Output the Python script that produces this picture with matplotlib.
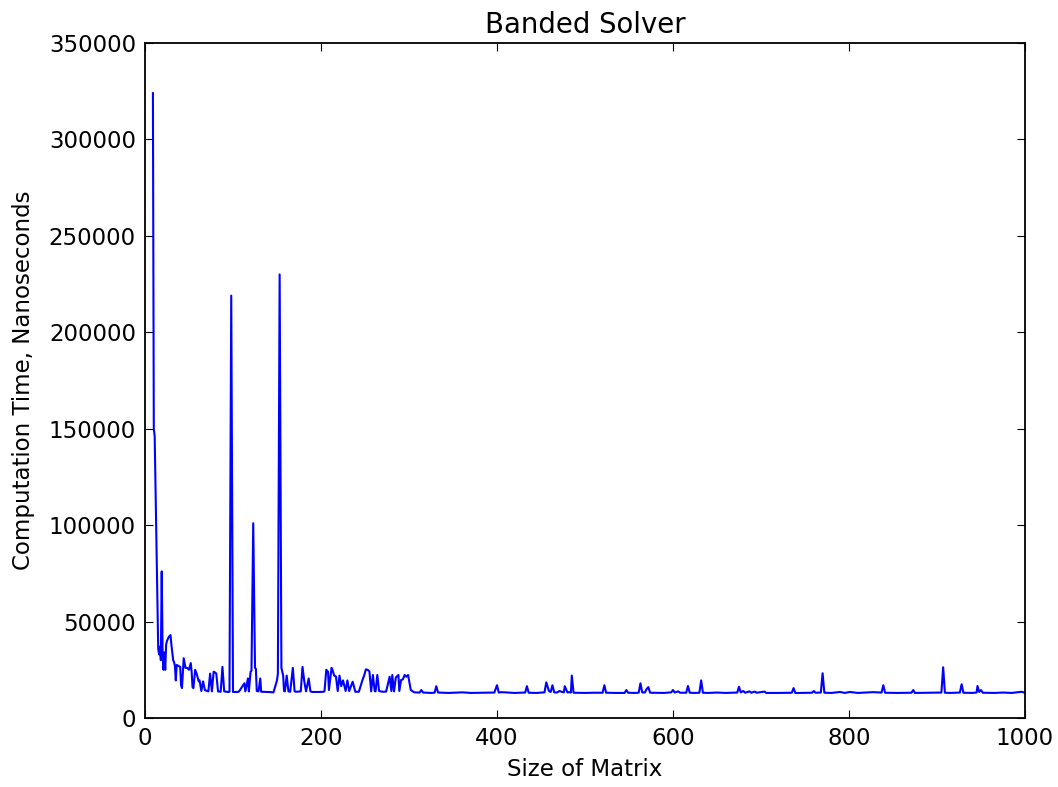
import matplotlib
matplotlib.use("Agg")
import matplotlib.pyplot as plt

# Size of matrix (x) and computation time in nanoseconds (y)
sizes = [
    9, 10, 11, 15, 16, 17, 18, 19, 20, 21, 22, 23, 24, 25, 27, 29, 30, 32, 33, 34,
    35, 36, 38, 40, 41, 42, 44, 46, 48, 50, 52, 53, 54, 55, 57, 59, 61, 62, 64, 66,
    68, 72, 74, 76, 78, 80, 81, 83, 86, 88, 90, 94, 96, 98, 100, 106, 108, 110, 113, 114,
    117, 118, 120, 121, 123, 125, 126, 127, 129, 131, 132, 140, 146, 148, 150, 151, 153, 155, 157, 158,
    159, 161, 163, 165, 168, 170, 172, 177, 179, 181, 183, 186, 188, 190, 198, 203,
    204, 206, 208, 209, 212, 213, 215, 217, 219, 221, 223, 225, 228, 230, 232, 236, 239, 243, 247, 249,
    251, 253, 255, 257, 259, 261, 262, 264, 266, 270, 274, 278, 280, 281, 283, 285, 288, 289, 291, 293,
    295, 297, 299, 302, 306, 310, 312, 314, 316, 325, 329, 331, 333, 345, 361, 370, 385, 397, 400, 402,
    405, 420, 432, 434, 436, 445, 454, 456, 459, 461, 463, 465, 468, 471, 474, 476, 477, 480, 482, 484,
    485, 487, 500, 510, 520, 522, 524, 535, 545, 547, 549, 556, 561, 563, 565, 568, 570, 572, 574, 585,
    590, 598, 600, 602, 606, 608, 615, 617, 619, 625, 630, 632, 634, 640, 650, 660, 673, 675, 677, 680,
    682, 687, 689, 693, 695, 704, 706, 720, 735, 737, 739, 745, 758, 760, 762, 768, 770, 772, 780, 790,
    795, 801, 810, 827, 837, 839, 841, 855, 871, 873, 875, 890, 905, 907, 909, 915, 926, 928, 930, 940,
    945, 946, 948, 950, 952, 965, 975, 985, 996, 1000,
]
times = [
    324000, 150000, 146000, 36000, 33000, 37000, 30000, 76000, 34000, 25000, 34000, 25000, 38000, 40000, 42000, 43000, 38000, 30000, 29000, 27000,
    19500, 27500, 27000, 26500, 17000, 15500, 31000, 26000, 26000, 25000, 28500, 24000, 16000, 15500, 25000, 22500, 19000, 19500, 14000, 19000,
    14500, 13800, 23000, 13800, 24000, 23500, 23000, 13800, 13600, 26500, 13800, 13500, 13600, 219000, 13500, 13500, 14500, 16000, 18000, 13800,
    20500, 13800, 24000, 24500, 101000, 26000, 25500, 14000, 13800, 20500, 13600, 13500, 13300, 16500, 19500, 23000, 230000, 26000, 22000, 14000,
    13800, 22000, 13800, 13600, 26000, 13800, 13600, 13800, 26500, 19000, 13800, 20500, 13800, 13500, 13500, 13600,
    14000, 25000, 24000, 14500, 26000, 25000, 22000, 21500, 14000, 22000, 16500, 19500, 14000, 19500, 14000, 18800, 13600, 13600, 19500, 22000,
    25200, 25000, 24200, 13800, 22300, 14000, 13800, 22300, 14000, 13600, 13700, 21400, 14000, 22300, 13800, 21000, 22300, 14000, 19700, 20000,
    22300, 21400, 22300, 14500, 13300, 13200, 13200, 14500, 13200, 13000, 13100, 16500, 13200, 13000, 13300, 13000, 13100, 13200, 17000, 13200,
    13400, 13000, 13200, 16500, 13100, 13000, 13300, 18500, 14000, 13500, 17000, 13300, 13200, 14000, 13500, 13300, 16500, 13300, 13400, 13200,
    22000, 13100, 13000, 13100, 13100, 17000, 13100, 13000, 13000, 14500, 13100, 13000, 13100, 18000, 13300, 13200, 15000, 16000, 13100, 13000,
    13000, 13300, 14500, 13200, 13800, 13100, 13100, 16600, 13100, 13000, 13100, 19500, 13100, 13000, 13200, 13000, 13200, 16200, 13300, 14000,
    13100, 13800, 13100, 13700, 13100, 13700, 13000, 13000, 13100, 15500, 13000, 13000, 13100, 14000, 13100, 13200, 23200, 13100, 13000, 13500,
    13000, 13500, 13000, 13400, 13200, 17000, 13100, 13000, 13100, 14500, 13000, 13100, 13200, 26300, 13100, 13000, 13200, 17500, 13100, 13000,
    13200, 16600, 13500, 14500, 13100, 13000, 13200, 13000, 13600, 13100,
]

x_ticks = [0, 200, 400, 600, 800, 1000]
y_ticks = [0, 50000, 100000, 150000, 200000, 250000, 300000, 350000]

plt.rcParams['font.family'] = ['DejaVu Sans']

fig = plt.figure(figsize=(10.58, 7.87), dpi=100)
ax = fig.add_axes([145 / 1058, 69 / 787, 880 / 1058, 675 / 787])

ax.plot(sizes, times, color=(0, 0, 1), linewidth=1.5)

ax.set_xlim(0, 1000)
ax.set_ylim(0, 350000)
ax.set_xticks(x_ticks)
ax.set_yticks(y_ticks)
ax.set_xticklabels([str(v) for v in x_ticks])
ax.set_yticklabels([str(v) for v in y_ticks])

ax.tick_params(axis='both', which='major', direction='in', length=5.8, width=0.8,
               top=True, right=True, labelsize=16.5, pad=6.5, colors='black')
ax.minorticks_off()
for sp in ax.spines.values():
    sp.set_linewidth(1.3)
    sp.set_color('black')

ax.set_title('Banded Solver', fontsize=19.8, pad=7)
ax.set_xlabel('Size of Matrix', fontsize=16.5, labelpad=6)
ax.set_ylabel('Computation Time, Nanoseconds', fontsize=16.5, labelpad=10)

fig.savefig('out.png', dpi=100)
